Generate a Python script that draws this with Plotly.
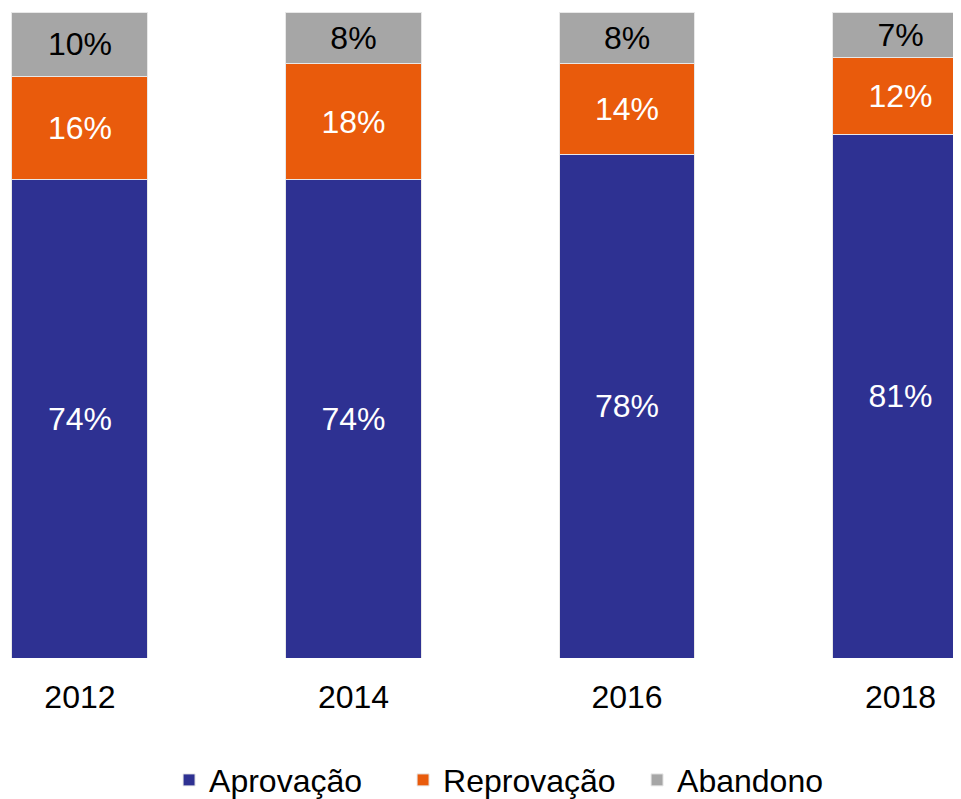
import plotly.graph_objects as go

anos = ["2012", "2014", "2016", "2018"]
aprovacao = [74, 74, 78, 81]
reprovacao = [16, 18, 14, 12]
abandono = [10, 8, 8, 7]

series = [
    ("Aprovação", aprovacao, "#2E3192", "white"),
    ("Reprovação", reprovacao, "#E95B0C", "white"),
    ("Abandono", abandono, "#A6A6A6", "black"),
]

fig = go.Figure()
for nome, vals, cor, cor_txt in series:
    fig.add_trace(go.Bar(
        x=anos, y=vals, name=nome,
        width=0.497,
        marker=dict(color=cor, line=dict(color="#E8E8E8", width=1)),
        text=[f"{v}%" for v in vals],
        textposition="inside",
        insidetextanchor="middle",
        textangle=0,
        textfont=dict(size=32, color=cor_txt, family="Liberation Sans, Arial"),
    ))

# a pagina tem 8px de margem no body, por isso a figura fica 8px menor
fig.update_layout(
    barmode="stack",
    width=953, height=791,
    margin=dict(l=0, r=0, t=4, b=141, autoexpand=False),
    plot_bgcolor="white", paper_bgcolor="white",
    font=dict(family="Liberation Sans, Arial", size=32, color="black"),
    showlegend=True,
    legend=dict(orientation="h", x=0.169, xanchor="left", y=-0.189, yanchor="middle",
                entrywidth=189, entrywidthmode="pixels",
                font=dict(size=32), traceorder="normal"),
)
fig.update_xaxes(type="category", range=[-0.263, 3.221], showline=False, showgrid=False,
                 automargin=False, ticks="", ticklabelstandoff=17, tickfont=dict(size=32))
fig.update_yaxes(range=[0, 100], visible=False, showgrid=False, automargin=False)

fig.write_html("out.html")
